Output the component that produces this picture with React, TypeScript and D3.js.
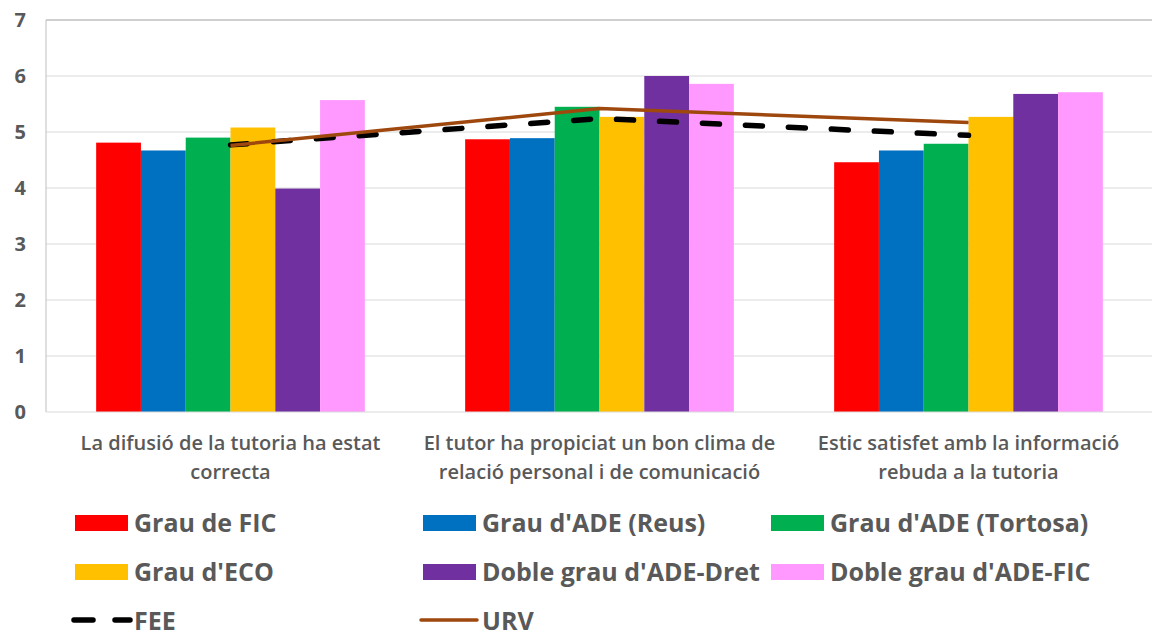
import React from "react";
import * as d3 from "d3";

const categories: string[][] = [
  ["La difusió de la tutoria ha estat", "correcta"],
  ["El tutor ha propiciat un bon clima de", "relació personal i de comunicació"],
  ["Estic satisfet amb la informació", "rebuda a la tutoria"],
];

const barSeriesNames = [
  "Grau de FIC",
  "Grau d'ADE (Reus)",
  "Grau d'ADE (Tortosa)",
  "Grau d'ECO",
  "Doble grau d'ADE-Dret",
  "Doble grau d'ADE-FIC",
];
const barColors = ["#FF0000", "#0070C0", "#00B050", "#FFC000", "#7030A0", "#FF99FF"];

const fic = [4.81, 4.87, 4.46];
const adeReus = [4.67, 4.89, 4.67];
const adeTortosa = [4.9, 5.45, 4.79];
const eco = [5.08, 5.27, 5.27];
const adeDret = [3.99, 6.0, 5.68];
const adeFic = [5.57, 5.86, 5.71];
const barValues = [fic, adeReus, adeTortosa, eco, adeDret, adeFic];

const feeValues = [4.77, 5.24, 4.94];
const urvValues = [4.76, 5.42, 5.17];

const yTicks = [0, 1, 2, 3, 4, 5, 6, 7];

const W = 1152;
const H = 633;
const M = { left: 46, top: 20, right: -1, bottom: 221 };
const FONT = "'Open Sans', sans-serif";
const TXT = "#595959";

export default function App() {
  const x0 = d3
    .scaleBand<number>()
    .domain(d3.range(categories.length))
    .range([M.left, W - M.right])
    .paddingInner(0)
    .paddingOuter(0);
  const x1 = d3
    .scaleBand<number>()
    .domain(d3.range(barSeriesNames.length))
    .range([0, x0.bandwidth()])
    .paddingInner(0)
    .paddingOuter(1.12);
  const y = d3.scaleLinear().domain([0, 7]).range([H - M.bottom, M.top]);

  const line = d3
    .line<number>()
    .x((_, i) => (x0(i) as number) + x0.bandwidth() / 2)
    .y((d) => y(d));

  const legendItems = [
    ...barSeriesNames.map((n, i) => ({ name: n, type: "bar", color: barColors[i] })),
    { name: "FEE", type: "fee", color: "#000" },
    { name: "URV", type: "urv", color: "#9E480E" },
  ];

  return (
    <svg
      width={W}
      height={H}
      style={{ position: "absolute", left: 0, top: 0, background: "#fff" }}
      fontFamily={FONT}
    >
      {yTicks.map((t) => (
        <g key={t}>
          {t > 0 && (
            <line
              x1={M.left}
              x2={W}
              y1={y(t)}
              y2={y(t)}
              stroke={t === 7 ? "#BFBFBF" : "#D9D9D9"}
              strokeWidth={t === 7 ? 1.3 : 1}
            />
          )}
          <text
            x={26}
            y={y(t)}
            dy="0.36em"
            textAnchor="end"
            fontSize={20}
            fontWeight={700}
            fill={TXT}
          >
            {t}
          </text>
        </g>
      ))}
      <line x1={M.left} x2={M.left} y1={M.top} y2={y(0)} stroke="#BFBFBF" strokeWidth={1} />

      {barValues.map((vals, s) =>
        vals.map((v, c) => (
          <rect
            key={`${s}-${c}`}
            x={(x0(c) as number) + (x1(s) as number)}
            y={y(v)}
            width={x1.bandwidth()}
            height={y(0) - y(v)}
            fill={barColors[s]}
          />
        ))
      )}
      <line x1={M.left} x2={W} y1={y(0)} y2={y(0)} stroke="#D9D9D9" strokeWidth={1} />

      <path
        d={line(feeValues) as string}
        fill="none"
        stroke="#000"
        strokeWidth={5.5}
        strokeDasharray="17 26"
        strokeLinecap="round"
      />
      <path d={line(urvValues) as string} fill="none" stroke="#9E480E" strokeWidth={3.5} />

      {categories.map((lines, c) => (
        <text
          key={c}
          x={(x0(c) as number) + x0.bandwidth() / 2}
          textAnchor="middle"
          fontSize={20}
          fontWeight={600}
          fill={TXT}
        >
          {lines.map((l, i) => (
            <tspan key={i} x={(x0(c) as number) + x0.bandwidth() / 2} y={450 + i * 29}>
              {l}
            </tspan>
          ))}
        </text>
      ))}

      {legendItems.map((it, i) => {
        const col = i % 3;
        const row = Math.floor(i / 3);
        const lx = 75 + col * 348;
        const cy = 523 + row * 49;
        return (
          <g key={it.name}>
            {it.type === "bar" && (
              <rect x={lx} y={cy - 8} width={53} height={16} fill={it.color} />
            )}
            {it.type === "fee" && (
              <line
                x1={lx - 1}
                x2={lx + 55}
                y1={cy - 1}
                y2={cy - 1}
                stroke="#000"
                strokeWidth={5.5}
                strokeDasharray="19 22"
                strokeLinecap="round"
              />
            )}
            {it.type === "urv" && (
              <line
                x1={lx - 2}
                x2={lx + 54}
                y1={cy - 1}
                y2={cy - 1}
                stroke={it.color}
                strokeWidth={3.5}
                strokeLinecap="round"
              />
            )}
            <text x={lx + 59} y={cy + 9} fontSize={25} fontWeight={700} fill={TXT}>
              {it.name}
            </text>
          </g>
        );
      })}
    </svg>
  );
}
